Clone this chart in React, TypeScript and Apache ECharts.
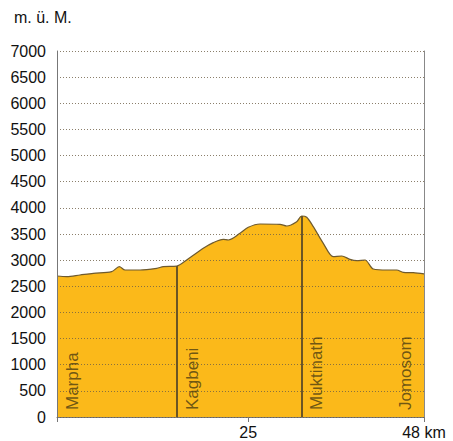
import React, { useEffect, useRef } from "react";
import * as echarts from "echarts";

const distanceKm = [0, 1.27, 3.0, 4.75, 7.15, 8.15, 8.9, 10.86, 13.04, 13.9, 15.66, 16.96, 19.13, 20.44, 21.75, 22.4, 23.93, 25.02, 26.55, 29.17, 30.04, 31.35, 32.0, 32.66, 33.52, 34.83, 36.14, 37.24, 38.32, 39.2, 40.28, 41.37, 43.12, 44.43, 45.29, 46.6, 48];
const elevation = [2697, 2685, 2716, 2748, 2780, 2875, 2811, 2811, 2843, 2875, 2887, 3003, 3226, 3335, 3398, 3385, 3513, 3628, 3691, 3685, 3653, 3735, 3844, 3820, 3640, 3322, 3066, 3079, 3015, 2990, 3003, 2830, 2811, 2811, 2767, 2760, 2736];

const villageNames = ["Marpha", "Kagbeni", "Muktinath", "Jomosom"];
const villageKm = [0, 15.66, 32.0, 48];
const villageElev = [2697, 2887, 3844, 2736];

const xTickValues = [0, 25, 48];
const xTickLabels = ["", "25", "48 km"];
const yAxisTitle = "m. ü. M.";

export default function App() {
  const ref = useRef<HTMLDivElement>(null);
  useEffect(() => {
    const chart = echarts.init(ref.current!, null, { renderer: "svg" });
    const font = "Liberation Sans, Arial, Helvetica, sans-serif";
    const labelOffsets = [2, 2, 2, -2.4];
    chart.setOption({
      animation: false,
      textStyle: { fontFamily: font },
      grid: { left: 57, right: 29, top: 51, bottom: 24 },
      graphic: [
        {
          type: "text",
          left: 14,
          top: 9,
          style: { text: yAxisTitle, font: `16px ${font}`, fill: "#111" },
        },
      ],
      xAxis: {
        type: "value",
        min: 0,
        max: 48,
        axisLine: { show: true, lineStyle: { color: "#777", width: 1 } },
        axisTick: {
          show: true,
          length: 5,
          lineStyle: { color: "#777" },
          customValues: xTickValues,
        },
        axisLabel: {
          customValues: xTickValues,
          formatter: (v: number) => xTickLabels[xTickValues.indexOf(v)] ?? "",
          color: "#111",
          fontSize: 16,
          margin: 7,
          showMaxLabel: true,
          showMinLabel: true,
        },
        splitLine: { show: false },
      },
      yAxis: [
        {
          type: "value",
          min: 0,
          max: 7000,
          interval: 500,
          z: 5,
          axisLine: { show: true, lineStyle: { color: "#777", width: 1 } },
          axisTick: { show: false },
          axisLabel: { color: "#111", fontSize: 16, margin: 11, formatter: (v: number) => String(v) },
          splitLine: {
            show: true,
            lineStyle: { color: "rgba(110,95,70,0.8)", type: [1, 2], width: 1 },
          },
        },
        {
          type: "value",
          min: 0,
          max: 7000,
          interval: 500,
          position: "right",
          axisLine: { show: true, lineStyle: { color: "#888", width: 1 } },
          axisTick: { show: false },
          axisLabel: { show: false },
          splitLine: { show: false },
        },
      ],
      series: [
        {
          type: "line",
          data: distanceKm.map((d, i) => [d, elevation[i]]),
          symbol: "none",
          smooth: 0.3,
          lineStyle: { color: "#6e5a2e", width: 1.2 },
          areaStyle: { color: "#FBB91A", opacity: 1 },
          z: 2,
          markLine: {
            symbol: "none",
            silent: true,
            label: { show: false },
            lineStyle: { color: "#6b5524", width: 2, type: "solid" },
            data: [1, 2].map((i) => [
              { coord: [villageKm[i], 0] },
              { coord: [villageKm[i], villageElev[i]] },
            ]),
          },
        },
        {
          type: "scatter",
          symbolSize: 0,
          z: 6,
          data: villageNames.map((n, i) => ({
            value: [villageKm[i] + labelOffsets[i], 0],
            name: n,
          })),
          label: {
            show: true,
            formatter: (p: any) => p.name,
            rotate: 90,
            position: [0, -7],
            align: "left",
            verticalAlign: "middle",
            color: "#4a3c12",
            fontSize: 17,
          },
        },
      ],
    });
    return () => chart.dispose();
  }, []);
  return (
    <div
      ref={ref}
      style={{ position: "fixed", left: 0, top: 0, width: 453, height: 441, background: "#fff" }}
    />
  );
}
